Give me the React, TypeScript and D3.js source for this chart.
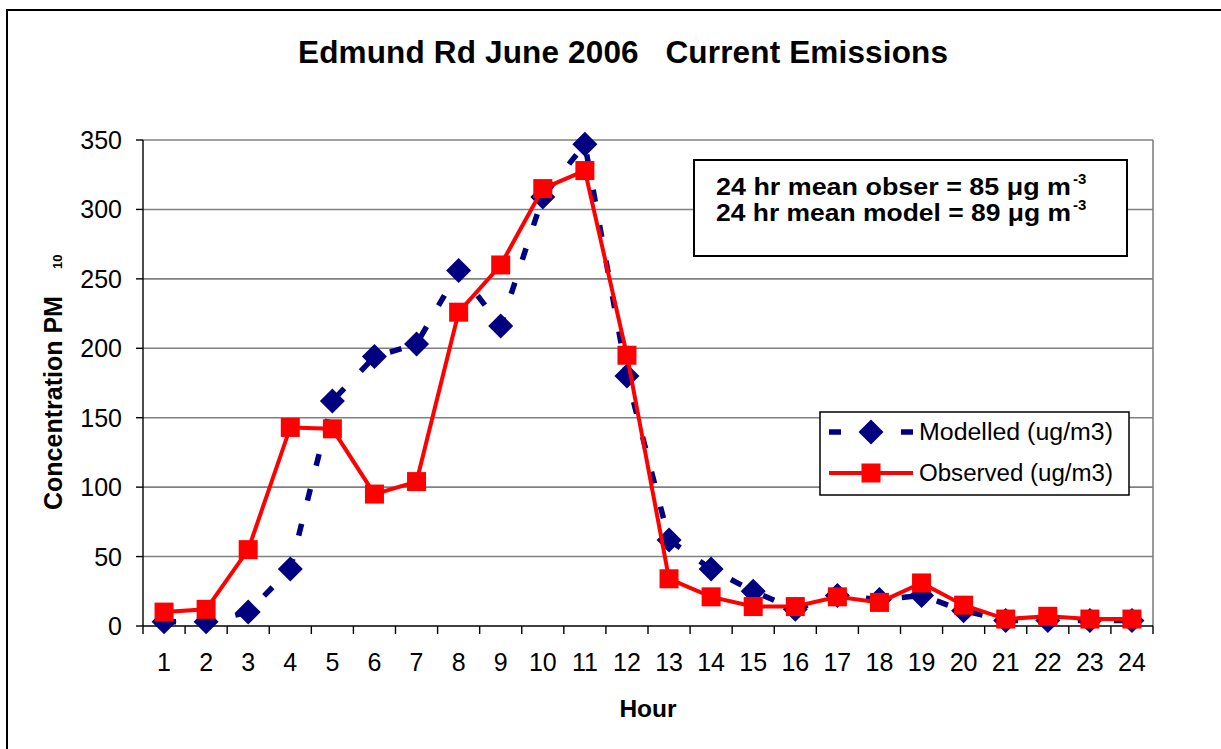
import React from "react";
import * as d3 from "d3";

const hours = ["1","2","3","4","5","6","7","8","9","10","11","12","13","14","15","16","17","18","19","20","21","22","23","24"];
const modelled = [3, 3, 10, 41, 162, 194, 203, 256, 216, 309, 347, 180, 62, 41, 25, 12, 22, 19, 22, 11, 4, 4, 4, 4];
const observed = [10, 12, 55, 143, 142, 95, 104, 226, 260, 315, 328, 195, 34, 21, 14, 14, 21, 17, 31, 15, 5, 7, 5, 5];
const yTicks = [0, 50, 100, 150, 200, 250, 300, 350];

const title = "Edmund Rd June 2006   Current Emissions";
const seriesNames = ["Modelled (ug/m3)", "Observed (ug/m3)"];
const noteLines = ["24 hr mean obser = 85 \u03bcg m", "24 hr mean model = 89 \u03bcg m"];

const W = 1221;
const H = 749;
const L = 143, R = 1153, T = 140, B = 626;
const FONT = "'Liberation Sans', Arial, Helvetica, sans-serif";
const NAVY = "#000080";
const RED = "#ff0000";

export default function App() {
  const x = d3.scaleBand<string>().domain(hours).range([L, R]).padding(0);
  const y = d3.scaleLinear().domain([0, 350]).range([B, T]);
  const cx = (h: string) => (x(h) as number) + x.bandwidth() / 2;

  const line = d3
    .line<number>()
    .x((_, i) => cx(hours[i]))
    .y((v) => y(v));

  const diamond = (px: number, py: number, r = 12.5) =>
    `M${px},${py - r}L${px + r},${py}L${px},${py + r}L${px - r},${py}Z`;
  const sq = 19;

  const boundaries = d3.range(hours.length + 1).map((i) => L + i * x.bandwidth());

  return (
    <svg
      width={W}
      height={H}
      style={{ position: "absolute", left: 0, top: 0, background: "#fff" }}
      fontFamily={FONT}
    >
      <rect x={7} y={10} width={1400} height={1000} fill="#fff" stroke="#000" strokeWidth={2} />

      {/* title */}
      <text
        x={623}
        y={63}
        textAnchor="middle"
        fontSize={31.5}
        fontWeight="bold"
        style={{ whiteSpace: "pre" }}
        textLength={650}
        lengthAdjust="spacing"
      >
        {title}
      </text>

      {/* gridlines */}
      {yTicks.filter((t) => t > 0).map((t) => (
        <line key={t} x1={L} x2={R} y1={y(t)} y2={y(t)} stroke="#808080" strokeWidth={1.6} />
      ))}
      <line x1={R} x2={R} y1={T} y2={B} stroke="#808080" strokeWidth={1.6} />

      {/* axes */}
      <line x1={L} x2={L} y1={T} y2={B} stroke="#000" strokeWidth={1.4} />
      <line x1={L} x2={R} y1={B} y2={B} stroke="#000" strokeWidth={1.4} />
      {yTicks.map((t) => (
        <g key={t}>
          <line x1={L - 7} x2={L} y1={y(t)} y2={y(t)} stroke="#000" strokeWidth={1.4} />
          <text x={122} y={y(t)} dy="0.36em" textAnchor="end" fontSize={25}>
            {t}
          </text>
        </g>
      ))}
      {boundaries.map((bx, i) => (
        <line key={i} x1={bx} x2={bx} y1={B} y2={B + 8} stroke="#000" strokeWidth={1.4} />
      ))}
      {hours.map((h) => (
        <text key={h} x={cx(h)} y={671} textAnchor="middle" fontSize={25}>
          {h}
        </text>
      ))}
      <text x={648} y={717} textAnchor="middle" fontSize={24.5} fontWeight="bold">
        Hour
      </text>

      {/* y axis title */}
      <text transform="translate(62,510) rotate(-90)" fontSize={25} fontWeight="bold">
        <tspan x={0}>Concentration PM</tspan>
        <tspan x={241} fontSize={13}>10</tspan>
      </text>

      {/* modelled series */}
      <path
        d={line(modelled) || ""}
        fill="none"
        stroke={NAVY}
        strokeWidth={5.5}
        strokeDasharray="12 24"
      />
      {modelled.map((v, i) => (
        <path key={i} d={diamond(cx(hours[i]), y(v))} fill={NAVY} />
      ))}

      {/* observed series */}
      <path d={line(observed) || ""} fill="none" stroke={RED} strokeWidth={4} />
      {observed.map((v, i) => (
        <rect
          key={i}
          x={cx(hours[i]) - sq / 2}
          y={y(v) - sq / 2}
          width={sq}
          height={sq}
          fill={RED}
        />
      ))}

      {/* annotation box */}
      <rect x={694} y={160} width={433} height={96} fill="#fff" stroke="#000" strokeWidth={2} />
      {noteLines.map((t, i) => (
        <g key={i}>
          <text
            x={716}
            y={195 + i * 26}
            fontSize={24}
            fontWeight="bold"
            textLength={355}
            lengthAdjust="spacingAndGlyphs"
          >
            {t}
          </text>
          <text x={1073} y={195 + i * 26 - 11} fontSize={15} fontWeight="bold">
            -3
          </text>
        </g>
      ))}

      {/* legend */}
      <rect x={820} y={412} width={309} height={83} fill="#fff" stroke="#000" strokeWidth={1.5} />
      <line x1={829} x2={913} y1={432} y2={432} stroke={NAVY} strokeWidth={5.5} strokeDasharray="12 24" />
      <path d={diamond(871, 432)} fill={NAVY} />
      <text x={919} y={440} fontSize={23} textLength={194} lengthAdjust="spacingAndGlyphs">
        {seriesNames[0]}
      </text>
      <line x1={829} x2={913} y1={473} y2={473} stroke={RED} strokeWidth={4} />
      <rect x={871 - sq / 2} y={473 - sq / 2} width={sq} height={sq} fill={RED} />
      <text x={919} y={481} fontSize={23} textLength={194} lengthAdjust="spacingAndGlyphs">
        {seriesNames[1]}
      </text>
    </svg>
  );
}
